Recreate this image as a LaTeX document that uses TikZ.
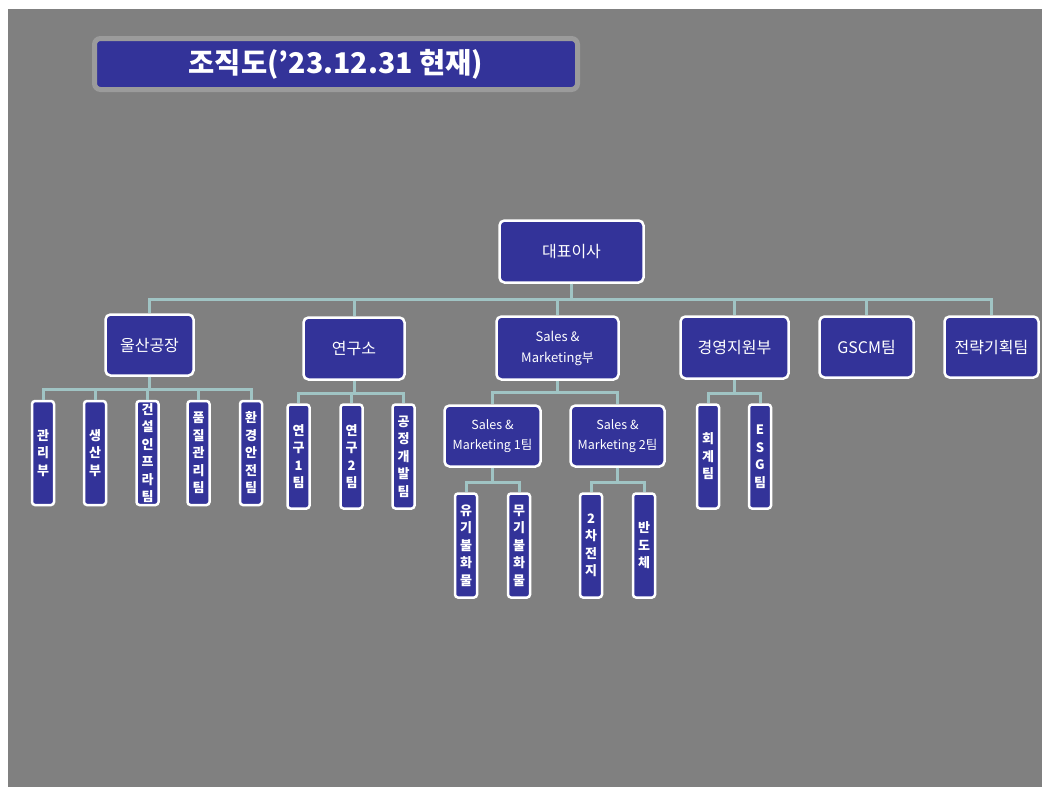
\documentclass[tikz,border=0pt]{standalone}
\usepackage{fontspec}
\setmainfont{Noto Sans CJK KR}
\definecolor{boxblue}{RGB}{51,51,153}
\definecolor{bggray}{RGB}{128,128,128}
\definecolor{framegray}{RGB}{155,155,155}
\definecolor{conncol}{RGB}{160,196,196}
\tikzset{
  box/.style={draw=white, line width=2.5pt, fill=boxblue, rounded corners=5pt,
    text=white, align=center, inner sep=0pt, font=\fontsize{16}{20}\selectfont},
  vbox/.style={box, rounded corners=3pt, minimum width=22pt, minimum height=104pt,
    font=\fontsize{13}{17.5}\selectfont\bfseries},
  tbox/.style={box, minimum height=61pt, font=\fontsize{12.5}{20}\selectfont},
  conn/.style={draw=conncol, line width=3pt}
}
\begin{document}
\begin{tikzpicture}[x=1pt,y=-1pt]
\useasboundingbox (0,0) rectangle (1042,787);
\fill[white] (0,0) rectangle (1042,787);
\fill[bggray] (8,9) rectangle (1042,787);
% title
\node[box, draw=framegray, line width=5pt, rounded corners=6pt, minimum width=483pt, minimum height=51pt,
  font=\fontsize{28.5}{32}\selectfont\bfseries] (title) at (336,64) {조직도(’23.12.31 현재)};
% top
\node[box, minimum width=144pt, minimum height=62pt] (ceo) at (571.5,251.5) {대표이사};
% level 1
\node[box, minimum width=88pt, minimum height=61pt] (ulsan) at (149.5,345) {울산공장};
\node[box, minimum width=101pt, minimum height=62pt] (lab) at (354,348.5) {연구소};
\node[box, minimum width=122pt, minimum height=63pt, font=\fontsize{13}{21}\selectfont] (sm) at (557.5,348) {Sales \&\\Marketing부};
\node[box, minimum width=108pt, minimum height=62pt] (mgmt) at (734.5,347.5) {경영지원부};
\node[box, minimum width=94pt, minimum height=61pt] (gscm) at (866.5,347) {GSCM팀};
\node[box, minimum width=94pt, minimum height=61pt] (strat) at (991.5,347) {전략기획팀};
% ulsan children
\node[vbox] (u1) at (43,453) {관\\리\\부};
\node[vbox] (u2) at (95,453) {생\\산\\부};
\node[vbox] (u3) at (147.5,453) {건\\설\\인\\프\\라\\팀};
\node[vbox] (u4) at (198.5,453) {품\\질\\관\\리\\팀};
\node[vbox] (u5) at (251,453) {환\\경\\안\\전\\팀};
% lab children
\node[vbox] (l1) at (298.5,456.5) {연\\구\\1\\팀};
\node[vbox] (l2) at (351.5,456.5) {연\\구\\2\\팀};
\node[vbox] (l3) at (403.5,456.5) {공\\정\\개\\발\\팀};
% sales teams
\node[tbox, minimum width=96pt] (sm1) at (492.5,436) {Sales \&\\Marketing 1팀};
\node[tbox, minimum width=94pt] (sm2) at (617.5,436) {Sales \&\\Marketing 2팀};
\node[vbox] (s11) at (466,545.5) {유\\기\\불\\화\\물};
\node[vbox] (s12) at (519,545.5) {무\\기\\불\\화\\물};
\node[vbox] (s21) at (591,545.5) {2\\차\\전\\지};
\node[vbox] (s22) at (644,545.5) {반\\도\\체};
% mgmt children
\node[vbox] (m1) at (708,456.5) {회\\계\\팀};
\node[vbox] (m2) at (760,456.5) {E\\S\\G\\팀};
% bus coordinates
\coordinate (b0) at (0,299);
\coordinate (bu) at (0,389);
\coordinate (bl) at (0,393);
\coordinate (bs) at (0,392);
\coordinate (bt) at (0,482);
\coordinate (bm) at (0,393);
% connectors
\begin{scope}[conn]
\foreach \n in {ulsan,lab,sm,mgmt,gscm,strat}
  \draw (ceo.south) -- (ceo.south |- b0) -| (\n.north);
\foreach \n in {u1,u2,u3,u4,u5}
  \draw (ulsan.south) -- (ulsan.south |- bu) -| (\n.north);
\foreach \n in {l1,l2,l3}
  \draw (lab.south) -- (lab.south |- bl) -| (\n.north);
\foreach \n in {sm1,sm2}
  \draw (sm.south) -- (sm.south |- bs) -| (\n.north);
\foreach \n in {s11,s12}
  \draw (sm1.south) -- (sm1.south |- bt) -| (\n.north);
\foreach \n in {s21,s22}
  \draw (sm2.south) -- (sm2.south |- bt) -| (\n.north);
\foreach \n in {m1,m2}
  \draw (mgmt.south) -- (mgmt.south |- bm) -| (\n.north);
\end{scope}
\end{tikzpicture}
\end{document}
